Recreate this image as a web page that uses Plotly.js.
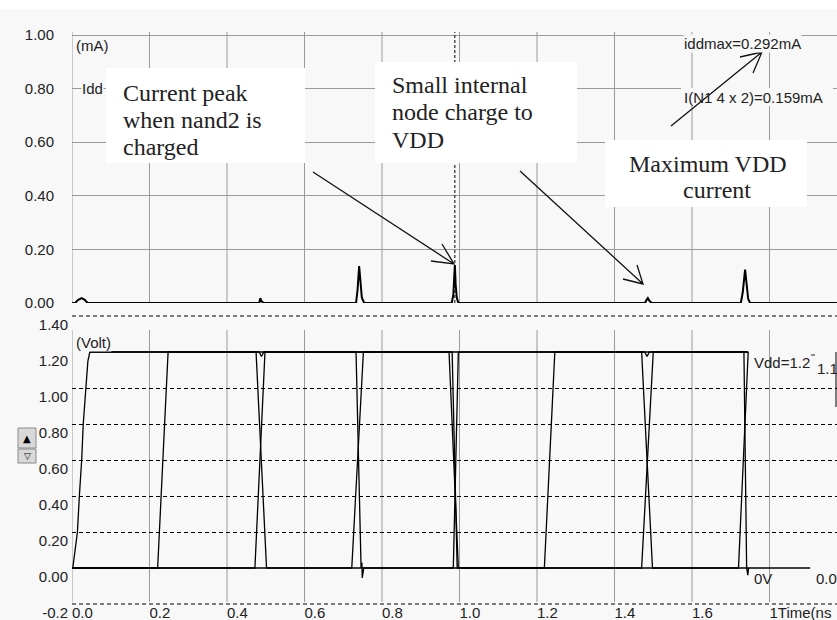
<!DOCTYPE html>
<html><head><meta charset="utf-8">
<script src="https://cdn.plot.ly/plotly-3.0.1.min.js"></script>
<style>html,body{margin:0;padding:0;background:#fff;overflow:hidden}#chart{position:absolute;left:0;top:9px;width:837px;height:611px}</style>
</head><body><div id="chart"></div>
<script>
// ---------------- data ----------------
// supply current Idd (mA) vs time (ns)
const iddTime  = [0, 0.008, 0.016, 0.025, 0.033, 0.040,
                  0.483, 0.486, 0.489, 0.492, 0.495,
                  0.733, 0.737, 0.741, 0.744, 0.748, 0.754,
                  0.980, 0.984, 0.986, 0.988, 0.990, 0.993, 0.997,
                  1.479, 1.482, 1.486, 1.490, 1.496,
                  1.726, 1.731, 1.737, 1.741, 1.745, 1.750,
                  1.974];
const iddValue = [0, 0, 0.012, 0.018, 0.012, 0,
                  0, 0.018, 0.006, 0.004, 0,
                  0, 0.05, 0.138, 0.07, 0.02, 0,
                  0, 0.03, 0.075, 0.142, 0.07, 0.02, 0,
                  0, 0.01, 0.018, 0.008, 0,
                  0, 0.04, 0.125, 0.06, 0.015, 0,
                  0];
// voltages (V)
const vddTime  = [0.002, 0.014, 0.019, 0.025, 0.029, 0.036, 0.041, 0.046, 0.483, 0.489, 0.495, 1.478, 1.484, 1.490, 1.745];
const vddValue = [0, 0.2, 0.4, 0.6, 0.8, 1.0, 1.15, 1.2, 1.2, 1.175, 1.2, 1.2, 1.175, 1.2, 1.2];
const vssTime  = [0, 1.905];
const vssValue = [0, 0];
const aTime  = [0, 0.221, 0.248, 0.475, 0.502, 0.722, 0.752, 0.973, 0.997, 1.219, 1.246, 1.470, 1.498, 1.720, 1.745];
const aValue = [0, 0, 1.2, 1.2, 0, 0, 1.2, 1.2, 0, 0, 1.2, 1.2, 0, 0, 1.2];
const bTime  = [0, 0.472, 0.498, 0.981, 0.994, 1.470, 1.500, 1.745];
const bValue = [0, 0, 1.2, 1.2, 0, 0, 1.2, 1.2];
const outTime  = [0.046, 0.733, 0.746, 0.748, 0.749, 0.753, 0.984, 0.997, 1.734, 1.741, 1.744, 1.746];
const outValue = [1.2, 1.2, 0, 0.03, -0.055, 0, 0, 1.2, 1.2, 0, -0.04, 0];
const cursorTime = 0.988;
// ticks
const xTickVals = [0, 0.2, 0.4, 0.6, 0.8, 1.0, 1.2, 1.4, 1.6, 1.8];
const xTickText = ['0.0', '0.2', '0.4', '0.6', '0.8', '1.0', '1.2', '1.4', '1.6', '1Time(ns'];
const iTickVals = [0, 0.2, 0.4, 0.6, 0.8, 1.0];
const iTickText = ['0.00', '0.20', '0.40', '0.60', '0.80', '1.00'];
const vTickVals = [-0.2, 0, 0.2, 0.4, 0.6, 0.8, 1.0, 1.2, 1.4];
const vTickText = ['-0.2', '0.00', '0.20', '0.40', '0.60', '0.80', '1.00', '1.20', '1.40'];
const vGridVals = [0.2, 0.4, 0.6, 0.8, 1.0];
const vEdgeGridVals = [-0.2, 1.4];

// ---------------- layout helpers (page pixels -> paper) ----------------
const PL = 72, PW = 765, PB = 604, PH = 595;
const fx = px => (px - PL) / PW;
const fy = py => (PB - py) / PH;
const V0 = 568, VPX = 180;            // page y of 0 V and pixels per volt (bottom panel)
const BG = '#f8f8f8', GRID = '#9a9a9a', INK = '#222222';
const SANS = '"Liberation Sans", Arial, sans-serif';
const SERIF = '"Liberation Serif", "Times New Roman", serif';

const lineStyle = {color: '#000', width: 1.3};
const traces = [
  {x: iddTime, y: iddValue, xaxis: 'x', yaxis: 'y', mode: 'lines', line: {color: '#000', width: 2}, hoverinfo: 'skip'},
  {x: vssTime, y: vssValue, xaxis: 'x', yaxis: 'y2', mode: 'lines', line: lineStyle, hoverinfo: 'skip'},
  {x: vddTime, y: vddValue, xaxis: 'x', yaxis: 'y2', mode: 'lines', line: lineStyle, hoverinfo: 'skip'},
  {x: aTime, y: aValue, xaxis: 'x', yaxis: 'y2', mode: 'lines', line: lineStyle, hoverinfo: 'skip'},
  {x: bTime, y: bValue, xaxis: 'x', yaxis: 'y2', mode: 'lines', line: lineStyle, hoverinfo: 'skip'},
  {x: outTime, y: outValue, xaxis: 'x', yaxis: 'y2', mode: 'lines', line: lineStyle, hoverinfo: 'skip'}
];

const shapes = [];
// vertical grid lines (two panels)
xTickVals.forEach(t => {
  shapes.push({type: 'line', xref: 'x', yref: 'paper', x0: t, x1: t, y0: fy(303), y1: fy(32), line: {color: GRID, width: 1}, layer: 'below'});
  shapes.push({type: 'line', xref: 'x', yref: 'paper', x0: t, x1: t, y0: fy(602), y1: fy(330), line: {color: GRID, width: 1}, layer: 'below'});
});
// dashed grid lines at the edges of the voltage range
vEdgeGridVals.forEach(v => {
  const yy = fy(V0 - VPX * v);
  shapes.push({type: 'line', xref: 'paper', yref: 'paper', x0: 0, x1: 1, y0: yy, y1: yy, line: {color: '#000', width: 1, dash: '4px,3px'}, layer: 'below'});
});
// cursor
shapes.push({type: 'line', xref: 'x', yref: 'paper', x0: cursorTime, x1: cursorTime, y0: fy(303), y1: fy(32), line: {color: '#000', width: 1, dash: '3px,2px'}, layer: 'above'});
function rect(x0, y0, x1, y1, fill, line) {
  return {type: 'rect', xref: 'paper', yref: 'paper', x0: fx(x0), x1: fx(x1), y0: fy(y1), y1: fy(y0),
          fillcolor: fill, line: line || {width: 0}, layer: 'above'};
}
// text boxes
shapes.push(rect(106, 68, 305, 163, '#ffffff'));
shapes.push(rect(375, 62, 577, 163, '#ffffff'));
shapes.push(rect(605, 140, 807, 207, '#ffffff'));
// background behind I(N1..) label
shapes.push(rect(681, 88, 833, 106, BG));
// arrows
function arrow(tail, tip, a1, a2) {
  const P = p => fx(p[0]).toFixed(5) + ',' + fy(p[1]).toFixed(5);
  return {type: 'path', xref: 'paper', yref: 'paper', layer: 'above',
          path: 'M' + P(tail) + ' L' + P(tip) + ' M' + P(a1) + ' L' + P(tip) + ' L' + P(a2),
          line: {color: '#111', width: 1.3}};
}
shapes.push(arrow([313, 172], [454, 264], [431, 261], [442, 244]));
shapes.push(arrow([520, 171], [643, 284], [623, 279], [637, 265]));
shapes.push(arrow([671, 126], [762, 52], [740, 57], [753, 73]));
// scroll buttons
shapes.push(rect(18, 428, 36, 448, '#d8d8d8', {color: '#8a8a8a', width: 1}));
shapes.push(rect(18, 449, 36, 463, '#d8d8d8', {color: '#8a8a8a', width: 1}));
// readout marks at right
shapes.push({type: 'line', xref: 'paper', yref: 'paper', x0: fx(811), x1: fx(815), y0: fy(355), y1: fy(355), line: {color: INK, width: 1}, layer: 'above'});
shapes.push({type: 'line', xref: 'paper', yref: 'paper', x0: fx(836), x1: fx(836), y0: fy(407), y1: fy(352), line: {color: '#000', width: 1}, layer: 'above'});

function txt(text, x, y, opts) {
  return Object.assign({text: text, xref: 'paper', yref: 'paper', x: fx(x), y: fy(y), xanchor: 'left', yanchor: 'middle',
                        showarrow: false, font: {family: SANS, size: 15, color: INK}, borderpad: 0}, opts || {});
}
const serif = {font: {family: SERIF, size: 24, color: INK}};
const annotations = [
  txt('(mA)', 75, 45, {bgcolor: BG}),
  txt('Idd', 81, 89, {bgcolor: BG}),
  txt('iddmax=0.292mA', 683, 43, {bgcolor: BG}),
  txt('I(N1 4 x 2)=0.159mA', 683, 97),
  txt('(Volt)', 75, 342, {bgcolor: BG}),
  txt('Vdd=1.2', 753, 362),
  txt('1.1', 816, 368),
  txt('0V', 753, 578),
  txt('0.0', 815, 578),
  txt('Current peak', 122, 93, serif),
  txt('when nand2 is', 122, 120, serif),
  txt('charged', 122, 147, serif),
  txt('Small internal', 391, 85, serif),
  txt('node charge to', 391, 112, serif),
  txt('VDD', 391, 140, serif),
  txt('Maximum VDD', 628, 164, serif),
  txt('current', 682, 190, serif),
  txt('▲', 27, 438, {xanchor: 'center', font: {family: 'DejaVu Sans', size: 10, color: '#000'}}),
  txt('▽', 27, 456, {xanchor: 'center', font: {family: 'DejaVu Sans', size: 9, color: '#000'}})
];

const tickFont = {family: SANS, size: 15, color: INK};
const layout = {
  width: 837, height: 611,
  margin: {l: 72, r: 0, t: 0, b: 16, pad: 0},
  paper_bgcolor: BG, plot_bgcolor: 'rgba(0,0,0,0)',
  showlegend: false, hovermode: false,
  xaxis: {domain: [0, 1], range: [0, (837 - PL) / 387.5], anchor: 'y2', tickmode: 'array', tickvals: xTickVals, ticktext: xTickText,
          ticklabelposition: 'outside right', ticklabeloverflow: 'allow', ticks: '', showgrid: false, zeroline: false, showline: false,
          tickfont: tickFont, ticklabelstandoff: -2},
  yaxis: {domain: [fy(303), fy(32)], range: [0, (303 - 32) / 268], anchor: 'x', tickmode: 'array', tickvals: iTickVals, ticktext: iTickText,
          ticks: '', showgrid: true, gridcolor: GRID, gridwidth: 1, zeroline: false, showline: false, tickfont: tickFont,
          ticklabelstandoff: 17, ticklabeloverflow: 'allow'},
  yaxis2: {domain: [0, fy(316)], range: [-0.2, 1.4], anchor: 'x', tickmode: 'array', tickvals: vTickVals, ticktext: vTickText,
           ticks: '', showgrid: false, zeroline: false, showline: false, tickfont: tickFont, ticklabelshift: 9, ticklabelstandoff: 3,
           ticklabeloverflow: 'allow'},
  yaxis3: {overlaying: 'y2', range: [-0.2, 1.4], anchor: 'x', tickmode: 'array', tickvals: vGridVals, showticklabels: false,
           ticks: '', showgrid: true, gridcolor: '#000', gridwidth: 1, griddash: '4px,3px', zeroline: false, showline: false},
  shapes: shapes,
  annotations: annotations
};
// empty trace so that the grid axis yaxis3 is drawn
traces.push({x: [], y: [], xaxis: 'x', yaxis: 'y3', mode: 'lines', hoverinfo: 'skip'});
Plotly.newPlot('chart', traces, layout, {staticPlot: true, displayModeBar: false});
</script></body></html>
